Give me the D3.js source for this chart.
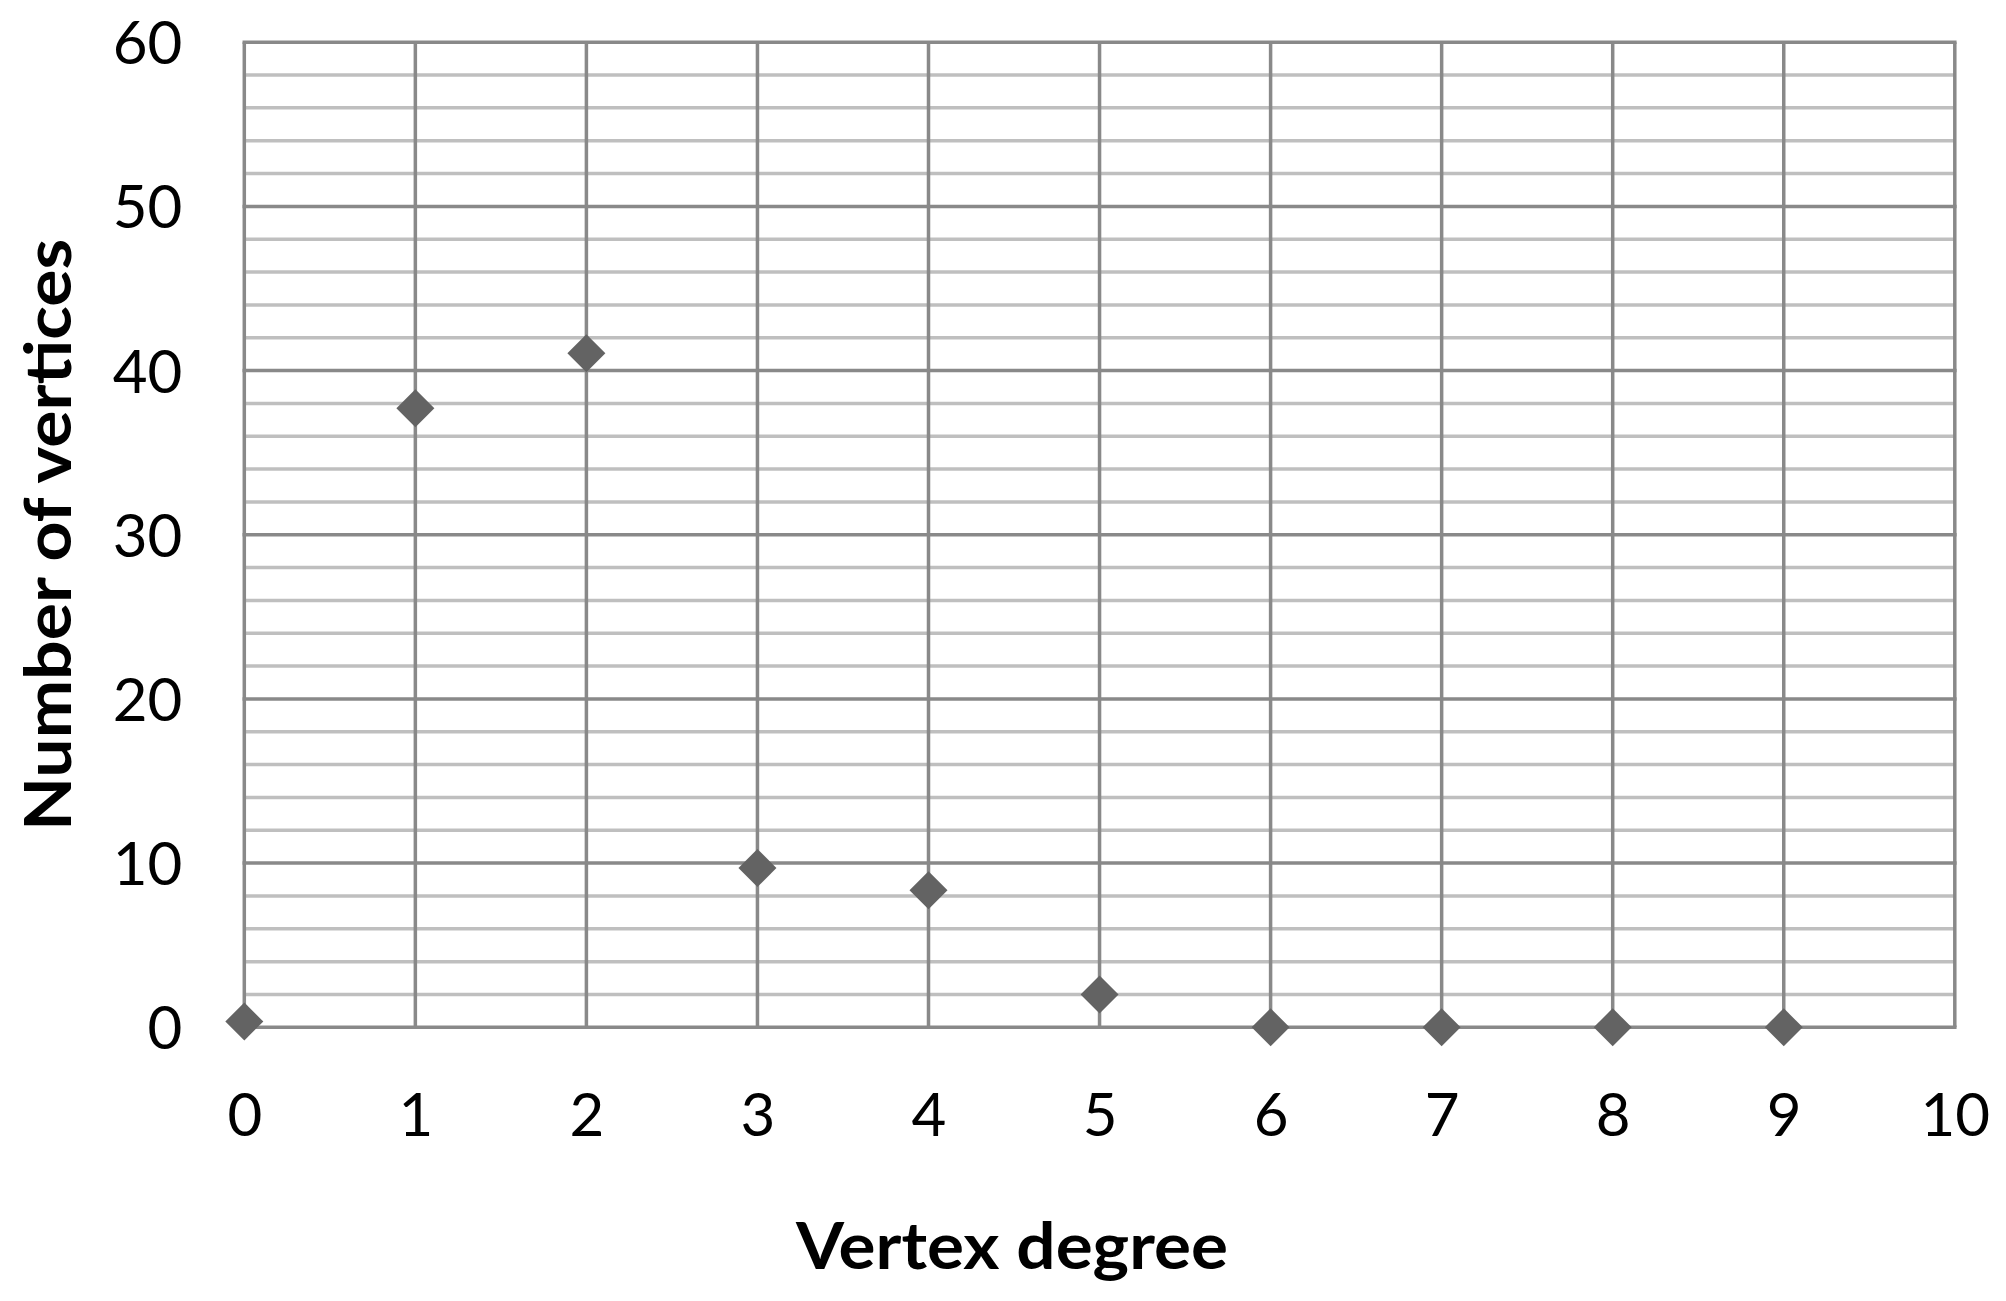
<!DOCTYPE html>
<html>
<head>
<meta charset="utf-8">
<script src="https://cdn.jsdelivr.net/npm/d3@7"></script>
<style>
  html, body { margin: 0; padding: 0; background: #ffffff; }
  svg { display: block; }
</style>
</head>
<body>
<svg id="chart" width="2006" height="1301"></svg>
<script>
// ---- data ----
const degrees = [0, 1, 2, 3, 4, 5, 6, 7, 8, 9];
const vertexCounts = [0.35, 37.7, 41.05, 9.7, 8.35, 2.0, 0, 0, 0, 0];
const xTickValues = [0, 1, 2, 3, 4, 5, 6, 7, 8, 9, 10];
const yTickValues = [0, 10, 20, 30, 40, 50, 60];
const yMinorValues = [2, 4, 6, 8, 12, 14, 16, 18, 22, 24, 26, 28, 32, 34, 36, 38, 42, 44, 46, 48, 52, 54, 56, 58];
const xTitle = "Vertex degree";
const yTitle = "Number of vertices";

(function () {
// ---- layout ----
const plotLeft = 244.3, plotRight = 1954.8, plotTop = 42.2, plotBottom = 1027.3;
const svg = d3.select("#chart");
svg.append("rect").attr("width", 2006).attr("height", 1301).attr("fill", "#ffffff");

const x = d3.scaleLinear().domain([0, 10]).range([plotLeft, plotRight]);
const y = d3.scaleLinear().domain([0, 60]).range([plotBottom, plotTop]);

const grid = svg.append("g");
// minor horizontal
grid.selectAll("line.minor").data(yMinorValues).join("line")
  .attr("class", "minor")
  .attr("x1", plotLeft).attr("x2", plotRight)
  .attr("y1", d => y(d)).attr("y2", d => y(d))
  .attr("stroke", "#bfbfbf").attr("stroke-width", 3.5);
// vertical
grid.selectAll("line.vert").data(xTickValues).join("line")
  .attr("class", "vert")
  .attr("x1", d => x(d)).attr("x2", d => x(d))
  .attr("y1", plotTop).attr("y2", plotBottom)
  .attr("stroke", "#898989").attr("stroke-width", 3.5);
// major horizontal
grid.selectAll("line.major").data(yTickValues).join("line")
  .attr("class", "major")
  .attr("x1", plotLeft - 1.75).attr("x2", plotRight + 1.75)
  .attr("y1", d => y(d)).attr("y2", d => y(d))
  .attr("stroke", "#898989").attr("stroke-width", 3.5);

// axes labels via d3 axes
const xAxis = d3.axisBottom(x).tickValues(xTickValues).tickSize(0).tickPadding(0).tickFormat(d3.format("d"));
const gx = svg.append("g").attr("transform", `translate(0,${plotBottom})`).call(xAxis);
gx.select(".domain").remove();
gx.selectAll("text")
  .attr("dy", null).attr("y", 109)
  .attr("font-family", "Lato, 'Open Sans', sans-serif")
  .attr("font-size", 60).attr("fill", "#000000");

const yAxis = d3.axisLeft(y).tickValues(yTickValues).tickSize(0).tickPadding(0).tickFormat(d3.format("d"));
const gy = svg.append("g").attr("transform", `translate(${plotLeft - 62},0)`).call(yAxis);
gy.select(".domain").remove();
gy.selectAll("text")
  .attr("dy", null).attr("y", 21.5).attr("x", 0)
  .attr("font-family", "Lato, 'Open Sans', sans-serif")
  .attr("font-size", 60).attr("fill", "#000000");

// points (diamonds)
const diamond = d3.symbol().type(d3.symbolSquare).size(722);
svg.append("g").selectAll("path").data(degrees).join("path")
  .attr("d", diamond)
  .attr("transform", (d, i) => `translate(${x(d)},${y(vertexCounts[i])}) rotate(45)`)
  .attr("fill", "#636363");

// titles
svg.append("text")
  .attr("x", 1012).attr("y", 1269)
  .attr("text-anchor", "middle")
  .attr("font-family", "Lato, 'Open Sans', sans-serif")
  .attr("font-weight", "bold").attr("font-size", 65)
  .attr("textLength", 432).attr("lengthAdjust", "spacingAndGlyphs")
  .attr("fill", "#000000")
  .text(xTitle);

svg.append("text")
  .attr("transform", `translate(71,${(plotTop + plotBottom) / 2}) rotate(-90)`)
  .attr("text-anchor", "middle")
  .attr("font-family", "Lato, 'Open Sans', sans-serif")
  .attr("font-weight", "bold").attr("font-size", 65)
  .attr("textLength", 592).attr("lengthAdjust", "spacingAndGlyphs")
  .attr("fill", "#000000")
  .text(yTitle);
})();
</script>
</body>
</html>
